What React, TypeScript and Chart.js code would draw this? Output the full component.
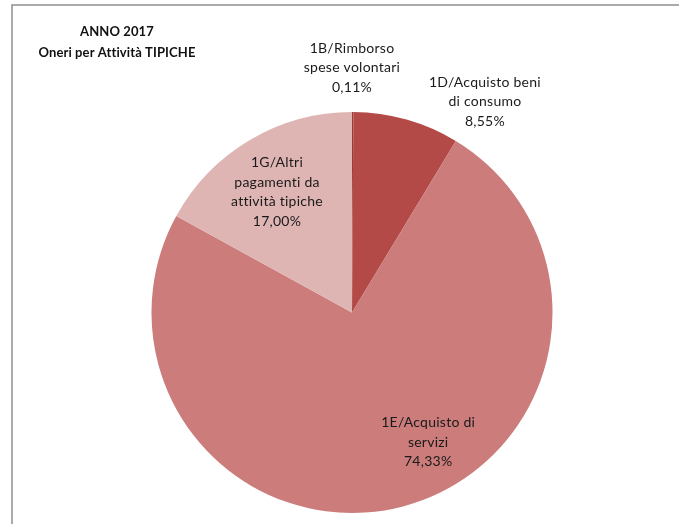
import React, { useEffect, useRef } from "react";
import { Chart, registerables } from "chart.js";

Chart.register(...registerables);

const categories = [
  "1B/Rimborso spese volontari",
  "1D/Acquisto beni di consumo",
  "1E/Acquisto di servizi",
  "1G/Altri pagamenti da attività tipiche",
];
const values = [0.11, 8.55, 74.33, 17.0];
const percentLabels = ["0,11%", "8,55%", "74,33%", "17,00%"];
const labelLines = [
  ["1B/Rimborso", "spese volontari"],
  ["1D/Acquisto beni", "di consumo"],
  ["1E/Acquisto di", "servizi"],
  ["1G/Altri", "pagamenti da", "attività tipiche"],
];
// label anchor offsets as fractions of the pie radius, relative to the pie centre
const labelOffsets = [
  [0.0, -1.22],
  [0.663, -1.05],
  [0.38, 0.646],
  [-0.374, -0.6],
];
const colors = ["#9c3a38", "#b34a47", "#cb7c7b", "#dfb5b4"];
const titleLines = ["ANNO 2017", "Oneri per Attività TIPICHE"];

const overlayPlugin = {
  id: "overlay",
  beforeDraw(chart: any) {
    const ctx = chart.ctx;
    ctx.save();
    ctx.strokeStyle = "#8f8f8f";
    ctx.lineWidth = 1.5;
    ctx.beginPath();
    ctx.moveTo(12, chart.height + 5);
    ctx.lineTo(12, 5);
    ctx.lineTo(chart.width + 5, 5);
    ctx.stroke();
    ctx.restore();
  },
  afterDraw(chart: any) {
    const ctx = chart.ctx;
    const meta = chart.getDatasetMeta(0);
    const arc = meta.data[0];
    const cx = arc.x;
    const cy = arc.y;
    const r = arc.outerRadius;
    ctx.save();
    ctx.textAlign = "center";
    ctx.textBaseline = "middle";
    ctx.fillStyle = "#111";
    ctx.font = "bold 13px Lato, 'Liberation Sans', sans-serif";
    (ctx as any).letterSpacing = "0.1px";
    titleLines.forEach((t, i) => ctx.fillText(t, 117, 32 + i * 21));
    ctx.fillStyle = "#1a1a1a";
    ctx.font = "14px Lato, 'Liberation Sans', sans-serif";
    (ctx as any).letterSpacing = "0.25px";
    const lh = 19.5;
    labelLines.forEach((lines, i) => {
      const all = [...lines, percentLabels[i]];
      const x = cx + labelOffsets[i][0] * r;
      const y = cy + labelOffsets[i][1] * r;
      const start = y - ((all.length - 1) * lh) / 2;
      all.forEach((t, j) => ctx.fillText(t, x, start + j * lh));
    });
    ctx.restore();
  },
};

export default function App() {
  const ref = useRef<HTMLCanvasElement | null>(null);
  useEffect(() => {
    if (!ref.current) return;
    const chart = new Chart(ref.current, {
      type: "pie",
      data: {
        labels: categories,
        datasets: [
          {
            data: values,
            backgroundColor: colors,
            borderWidth: 0,
          },
        ],
      },
      options: {
        animation: false,
        responsive: false,
        layout: { padding: { left: 151.5, right: 126.5, top: 112, bottom: 11 } },
        plugins: {
          legend: { display: false },
          tooltip: { enabled: false },
          title: { display: false },
        },
      },
      plugins: [overlayPlugin],
    });
    return () => chart.destroy();
  }, []);
  return (
    <div style={{ position: "fixed", left: 0, top: 0, width: 679, height: 524, background: "#fff" }}>
      <canvas ref={ref} width={679} height={524} style={{ display: "block" }} />
    </div>
  );
}
